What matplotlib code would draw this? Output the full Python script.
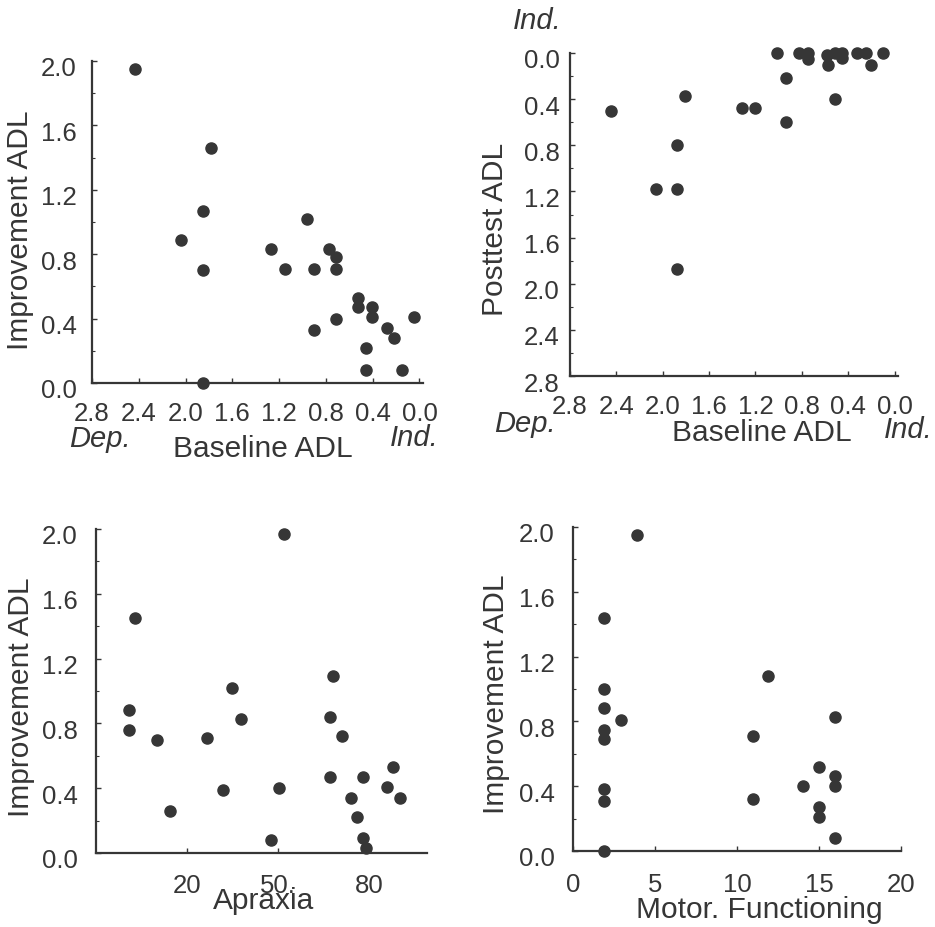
import matplotlib
matplotlib.use("Agg")
import matplotlib.pyplot as plt
import matplotlib.transforms as mtransforms
from matplotlib.ticker import MultipleLocator, FixedLocator

plt.rcParams['font.family'] = ['Liberation Sans', 'DejaVu Sans']

# ---- data ----
p1_baseline = [2.43, 1.78, 1.85, 2.04, 1.85, 1.85, 1.27, 1.15, 0.96, 0.90, 0.90, 0.77, 0.71,
               0.71, 0.71, 0.53, 0.53, 0.41, 0.41, 0.46, 0.46, 0.28, 0.22, 0.15, 0.05]
p1_improve = [1.95, 1.46, 1.07, 0.89, 0.70, 0.00, 0.83, 0.71, 1.02, 0.71, 0.33, 0.83, 0.78,
              0.71, 0.40, 0.53, 0.47, 0.47, 0.41, 0.22, 0.08, 0.34, 0.28, 0.08, 0.41]

p2_baseline = [2.45, 1.81, 1.88, 2.06, 1.88, 1.88, 1.32, 1.20, 1.01, 0.94, 0.94, 0.82, 0.75,
               0.75, 0.58, 0.57, 0.51, 0.45, 0.45, 0.51, 0.32, 0.25, 0.20, 0.10]
p2_posttest = [0.50, 0.37, 0.80, 1.18, 1.18, 1.87, 0.48, 0.48, 0.00, 0.22, 0.60, 0.00, 0.00,
               0.05, 0.02, 0.10, 0.00, 0.00, 0.04, 0.40, 0.00, 0.00, 0.10, 0.00]

p3_apraxia = [0.8, 0.8, 2.8, 10.1, 14.5, 26.7, 31.8, 34.8, 37.9, 47.6, 50.4, 51.9, 67.9, 66.9,
              67.0, 70.9, 74.0, 76.1, 78.0, 78.0, 78.9, 85.7, 87.9, 90.0]
p3_improve = [0.88, 0.76, 1.45, 0.70, 0.26, 0.71, 0.39, 1.02, 0.83, 0.08, 0.40, 1.97, 1.09, 0.84,
              0.47, 0.72, 0.34, 0.22, 0.47, 0.09, 0.03, 0.41, 0.53, 0.34]

p4_motor = [3.9, 1.9, 1.9, 1.9, 1.9, 1.9, 2.9, 1.9, 1.9, 1.9, 11.9, 11.0, 11.0, 16.0, 15.0,
            14.0, 16.0, 16.0, 15.0, 15.0, 16.0]
p4_improve = [1.95, 1.44, 1.00, 0.88, 0.75, 0.69, 0.81, 0.38, 0.31, 0.00, 1.08, 0.71, 0.32,
              0.83, 0.52, 0.40, 0.46, 0.40, 0.27, 0.21, 0.08]

adl_ticks = [2.8, 2.4, 2.0, 1.6, 1.2, 0.8, 0.4, 0.0]
adl_labels = ['2.8', '2.4', '2.0', '1.6', '1.2', '0.8', '0.4', '0.0']
imp_ticks = [0.0, 0.4, 0.8, 1.2, 1.6, 2.0]
imp_labels = ['0.0', '0.4', '0.8', '1.2', '1.6', '2.0']
apraxia_ticks = [20, 50, 80]
apraxia_labels = ['20', '50.', '80']
motor_ticks = [0, 5, 10, 15, 20]
motor_labels = ['0', '5', '10', '15', '20']

# ---- style ----
INK = '#363636'
W, H = 935, 928
fig = plt.figure(figsize=(W / 100, H / 100), dpi=100)
fig.patch.set_facecolor('white')


def px_axes(left, top, right, bottom):
    return fig.add_axes([left / W, 1 - bottom / H, (right - left) / W, (bottom - top) / H])


def style(ax, xpad, ypad):
    for s in ('top', 'right'):
        ax.spines[s].set_visible(False)
    for s in ('left', 'bottom'):
        ax.spines[s].set_color(INK)
        ax.spines[s].set_linewidth(1.6)
    ax.tick_params(axis='both', which='major', direction='in', length=3.5, width=1.0,
                   colors=INK, labelsize=18.5, labelcolor=INK)
    ax.tick_params(axis='both', which='minor', direction='in', length=1.8, width=0.8, colors=INK)
    ax.tick_params(axis='x', pad=xpad)
    ax.tick_params(axis='y', pad=ypad)


def shift_ylabels(ax, dy_px=-5):
    off = mtransforms.ScaledTranslation(0, dy_px / 100, fig.dpi_scale_trans)
    for lab in ax.get_yticklabels():
        lab.set_transform(lab.get_transform() + off)


def text_px(x, y, s, **kw):
    fig.text(x / W, 1 - y / H, s, color=INK, **kw)


msize = 8

# Panel 1
ax1 = px_axes(92, 62, 423, 384)
ax1.plot(p1_baseline, p1_improve, 'o', color=INK, ms=msize, clip_on=False)
ax1.set_xlim(2.8, -0.03)
ax1.set_ylim(0, 2.0)
ax1.xaxis.set_major_locator(FixedLocator(adl_ticks))
ax1.set_xticklabels(adl_labels)
ax1.yaxis.set_major_locator(FixedLocator(imp_ticks))
ax1.set_yticklabels(imp_labels)
ax1.yaxis.set_minor_locator(MultipleLocator(0.2))
style(ax1, 13, 11)
shift_ylabels(ax1)

# Panel 2
ax2 = px_axes(570, 54, 898, 377)
ax2.plot(p2_baseline, p2_posttest, 'o', color=INK, ms=msize, clip_on=False)
ax2.set_xlim(2.8, -0.03)
ax2.set_ylim(2.8, 0.0)
ax2.xaxis.set_major_locator(FixedLocator(adl_ticks))
ax2.set_xticklabels(adl_labels)
ax2.yaxis.set_major_locator(FixedLocator(adl_ticks))
ax2.set_yticklabels(adl_labels)
ax2.yaxis.set_minor_locator(MultipleLocator(0.2))
style(ax2, 13, 7.5)
shift_ylabels(ax2)

# Panel 3
ax3 = px_axes(96, 530, 427, 854)
ax3.plot(p3_apraxia, p3_improve, 'o', color=INK, ms=msize, clip_on=False)
ax3.set_xlim(-10, 99)
ax3.set_ylim(0, 2.0)
ax3.xaxis.set_major_locator(FixedLocator(apraxia_ticks))
ax3.set_xticklabels(apraxia_labels)
ax3.yaxis.set_major_locator(FixedLocator(imp_ticks))
ax3.set_yticklabels(imp_labels)
ax3.yaxis.set_minor_locator(MultipleLocator(0.2))
style(ax3, 14.5, 13)
shift_ylabels(ax3)

# Panel 4
ax4 = px_axes(573, 528, 901, 852)
ax4.plot(p4_motor, p4_improve, 'o', color=INK, ms=msize, clip_on=False)
ax4.set_xlim(0, 20)
ax4.set_ylim(0, 2.0)
ax4.xaxis.set_major_locator(FixedLocator(motor_ticks))
ax4.set_xticklabels(motor_labels)
ax4.yaxis.set_major_locator(FixedLocator(imp_ticks))
ax4.set_yticklabels(imp_labels)
ax4.yaxis.set_minor_locator(MultipleLocator(0.2))
style(ax4, 15, 13)
shift_ylabels(ax4)

# ---- axis labels & annotations ----
LS = 21.5
# Panel 1
text_px(263, 457, 'Baseline ADL', fontsize=LS, ha='center', va='baseline')
text_px(100, 447, 'Dep.', fontsize=LS - 0.5, style='italic', ha='center', va='baseline')
text_px(414, 446, 'Ind.', fontsize=LS - 0.5, style='italic', ha='center', va='baseline')
text_px(20, 230, 'Improvement ADL', fontsize=LS, rotation=90, ha='center', va='center')
# Panel 2
text_px(762, 441, 'Baseline ADL', fontsize=LS, ha='center', va='baseline')
text_px(525, 432, 'Dep.', fontsize=LS - 0.5, style='italic', ha='center', va='baseline')
text_px(908, 438, 'Ind.', fontsize=LS - 0.5, style='italic', ha='center', va='baseline')
text_px(537, 29, 'Ind.', fontsize=LS - 0.5, style='italic', ha='center', va='baseline')
text_px(495, 229, 'Posttest ADL', fontsize=LS, rotation=90, ha='center', va='center')
# Panel 3
text_px(264, 909, 'Apraxia', fontsize=LS, ha='center', va='baseline')
text_px(21, 697, 'Improvement ADL', fontsize=LS, rotation=90, ha='center', va='center')
# Panel 4
text_px(759, 918, 'Motor. Functioning', fontsize=LS, ha='center', va='baseline')
text_px(496, 694, 'Improvement ADL', fontsize=LS, rotation=90, ha='center', va='center')

fig.savefig('out.png', dpi=100, facecolor='white')
